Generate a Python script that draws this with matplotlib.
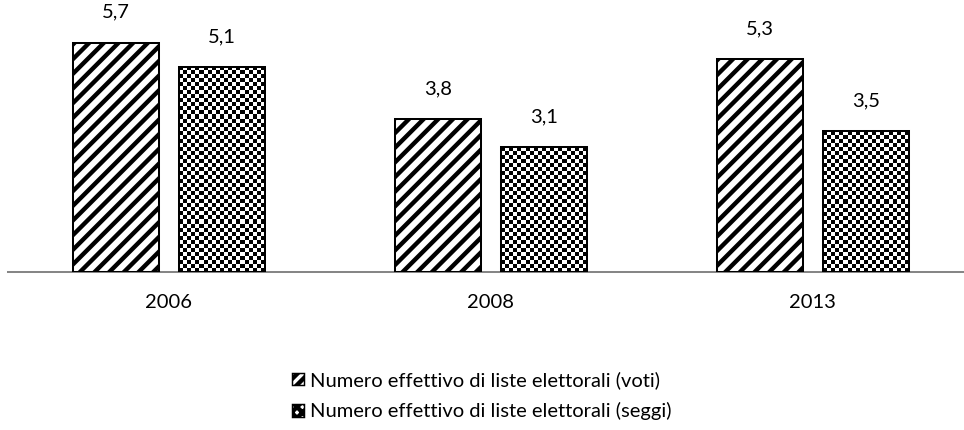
# Numero effettivo di liste elettorali: voti vs seggi
import numpy as np
import matplotlib.pyplot as plt
from matplotlib.patches import Patch

DPI = 132
plt.rcParams['font.family'] = ['Lato', 'DejaVu Sans']
plt.rcParams['hatch.linewidth'] = 2.4

# dati
anni = ['2006', '2008', '2013']
voti = [5.7, 3.8, 5.3]
seggi = [5.1, 3.1, 3.5]
etichette = ['Numero effettivo di liste elettorali (voti)',
             'Numero effettivo di liste elettorali (seggi)']

fig = plt.figure(figsize=(964 / DPI, 430 / DPI), dpi=DPI)
ax = fig.add_axes([8 / 964, 158 / 430, 956 / 964, 267 / 430])

x = np.arange(len(anni))
w = 0.267
off = 0.1646

b1 = ax.bar(x - off, voti, w, facecolor='white', edgecolor='black',
            hatch='///', linewidth=1.1, zorder=3)
b2 = ax.bar(x + off, seggi, w, facecolor='none', edgecolor='black',
            linewidth=1.1, zorder=3)

ax.set_xlim(-0.5, 2.47)
ax.set_ylim(0, 6.64)

# riempimento a scacchiera per i seggi
cell = 4  # px
for bar in b2:
    x0, y0 = bar.get_x(), bar.get_y()
    bw, bh = bar.get_width(), bar.get_height()
    p0, p1 = ax.transData.transform([(x0, y0), (x0 + bw, y0 + bh)])
    nx = max(1, int(round((p1[0] - p0[0]) / cell)))
    ny = max(1, int(round((p1[1] - p0[1]) / cell)))
    arr = np.add.outer(np.arange(ny), np.arange(nx)) % 2
    im = ax.imshow(arr, cmap='gray', vmin=0, vmax=1, extent=(x0, x0 + bw, y0, y0 + bh),
                   interpolation='nearest', aspect='auto', zorder=2)
    im.set_clip_path(bar)

ax.set_xlim(-0.5, 2.47)
ax.set_ylim(0, 6.64)

# etichette valori
for bars, vals in ((b1, voti), (b2, seggi)):
    for bar, v in zip(bars, vals):
        ax.annotate(f'{v:.1f}'.replace('.', ','),
                    (bar.get_x() + bar.get_width() / 2, v),
                    xytext=(0, 12), textcoords='offset points',
                    ha='center', va='bottom', fontsize=11)

ax.set_xticks(x)
ax.set_xticklabels(anni, fontsize=11)
ax.tick_params(axis='x', length=0, pad=12)
ax.set_yticks([])
for s in ['top', 'right', 'left']:
    ax.spines[s].set_visible(False)
ax.spines['bottom'].set_color('#868686')
ax.spines['bottom'].set_linewidth(1.1)

handles = [Patch(facecolor='white', edgecolor='black', hatch='////', linewidth=0.8),
           Patch(facecolor='white', edgecolor='black', hatch='xxxx', linewidth=0.8)]
fig.legend(handles, etichette, loc='upper center', bbox_to_anchor=(0.5, 77 / 430),
           frameon=False, fontsize=11, handlelength=0.6, handleheight=0.6,
           handletextpad=0.3, labelspacing=0.65)

fig.savefig('out.png', dpi=DPI)
